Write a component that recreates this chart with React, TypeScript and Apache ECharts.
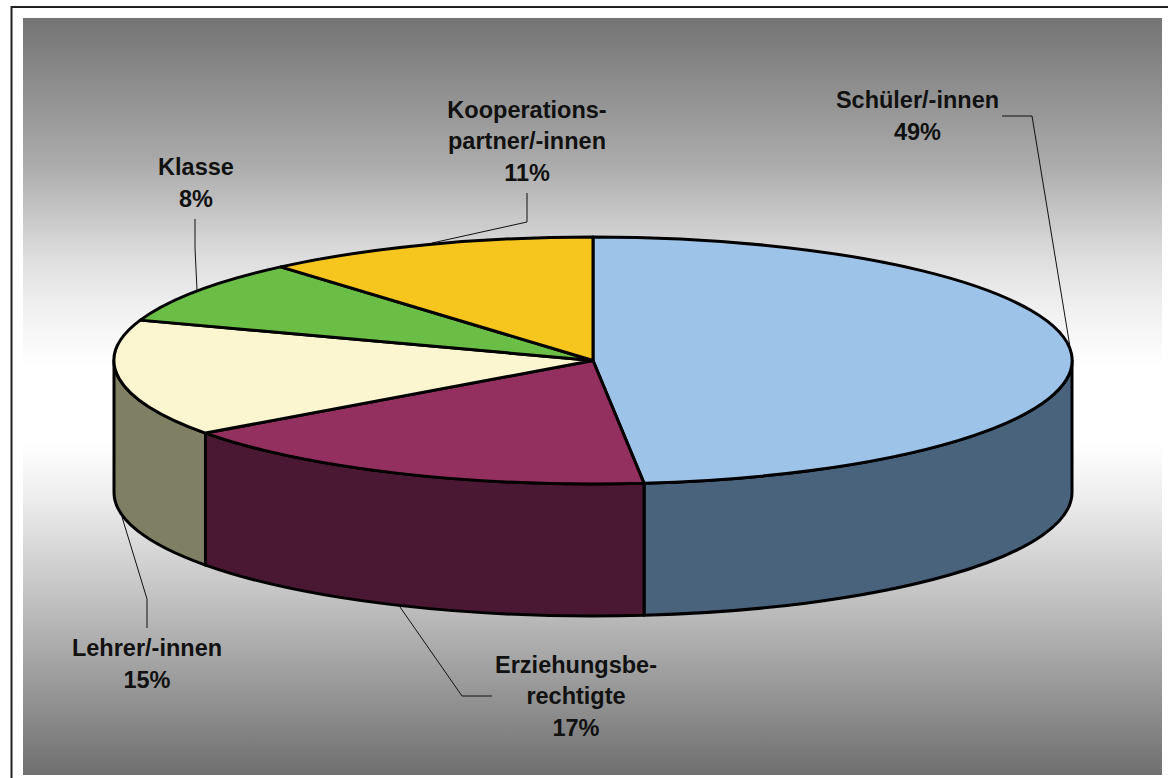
import React, { useEffect, useRef } from "react";
import * as echarts from "echarts";

const categories = ["Schüler/-innen", "Erziehungsbe-\nrechtigte", "Lehrer/-innen", "Klasse", "Kooperations-\npartner/-innen"];
const sliceShares = [48.3, 16.7, 15.3, 8.4, 11.3];
const percentLabels = [49, 17, 15, 8, 11];
const topColors = ["#9DC3E9", "#93305F", "#FBF6CF", "#6ABD45", "#F6C51E"];
const sideColors = ["#4A637D", "#4A1832", "#7F7F63", "#35602A", "#7C630F"];

const CX = 593, CY = 360.5, RX = 479, RY = 123.5, DEPTH = 132;
const OUTLINE = 3;
const labelCenters = [[917.5, 116], [576, 696], [147, 664], [196, 183], [527, 141]];
const leaders = [
  [[1002, 116], [1032, 116], [1070, 347]],
  [[492, 696], [462, 696], [400, 607]],
  [[147, 628], [147, 599], [122, 517]],
  [[195, 219], [195, 248], [197, 290]],
  [[527, 193], [527, 222], [432, 243]],
];

const total = sliceShares.reduce((a, b) => a + b, 0);
const pt = (deg: number, dy = 0): [number, number] => {
  const r = (deg * Math.PI) / 180;
  return [CX + RX * Math.sin(r), CY - RY * Math.cos(r) + dy];
};
const f = (n: number) => n.toFixed(2);

function renderItem(params: any) {
  const i = params.dataIndex;
  const before = sliceShares.slice(0, i).reduce((a, b) => a + b, 0);
  const a0 = (before / total) * 360;
  const a1 = ((before + sliceShares[i]) / total) * 360;
  const [sx, sy] = pt(a0);
  const [ex, ey] = pt(a1);
  const large = a1 - a0 > 180 ? 1 : 0;
  const children: any[] = [];
  const s0 = Math.max(a0, 90);
  const s1 = Math.min(a1, 270);
  if (s1 > s0) {
    const [x0, y0] = pt(s0);
    const [x1, y1] = pt(s1);
    children.push({
      type: "path",
      z2: 1,
      shape: {
        pathData: `M${f(x0)} ${f(y0)}A${RX} ${RY} 0 0 1 ${f(x1)} ${f(y1)}L${f(x1)} ${f(y1 + DEPTH)}A${RX} ${RY} 0 0 0 ${f(x0)} ${f(y0 + DEPTH)}Z`,
      },
      style: { fill: sideColors[i], stroke: "#000", lineWidth: OUTLINE, lineJoin: "round" },
    });
  }
  children.push({
    type: "path",
    z2: 2,
    shape: {
      pathData: `M${CX} ${CY}L${f(sx)} ${f(sy)}A${RX} ${RY} 0 ${large} 1 ${f(ex)} ${f(ey)}Z`,
    },
    style: { fill: topColors[i], stroke: "#000", lineWidth: OUTLINE, lineJoin: "round" },
  });
  return { type: "group", children };
}

export default function App() {
  const ref = useRef<HTMLDivElement>(null);
  useEffect(() => {
    const chart = echarts.init(ref.current!, null, { renderer: "svg" });
    chart.setOption({
      animation: false,
      backgroundColor: "#fff",
      graphic: [
        {
          type: "rect",
          z: -10,
          shape: { x: 23, y: 18, width: 1139, height: 757 },
          style: {
            fill: new echarts.graphic.LinearGradient(0, 0, 0, 1, [
              { offset: 0, color: "#747474" },
              { offset: 0.19, color: "#aaaaaa" },
              { offset: 0.318, color: "#dedede" },
              { offset: 0.383, color: "#f0f0f0" },
              { offset: 0.46, color: "#ffffff" },
              { offset: 0.561, color: "#ffffff" },
              { offset: 0.638, color: "#ececec" },
              { offset: 0.766, color: "#c2c2c2" },
              { offset: 1, color: "#6f6f6f" },
            ]),
          },
        },
        { type: "polyline", z: -9, shape: { points: [[11.5, 778], [11.5, 7], [1168, 7]] }, style: { fill: "none", stroke: "#222", lineWidth: 2 } },
        ...leaders.map((points) => ({
          type: "polyline",
          z: 1,
          shape: { points },
          style: { fill: "none", stroke: "#111", lineWidth: 1 },
        })),
        ...categories.map((name, i) => ({
          type: "text",
          z: 10,
          x: labelCenters[i][0],
          y: labelCenters[i][1],
          style: {
            text: `${name}\n${percentLabels[i]}%`,
            font: 'bold 23.5px "Liberation Sans", Arial, sans-serif',
            fill: "#111",
            align: "center",
            verticalAlign: "middle",
            lineHeight: 31.5,
          },
        })),
      ],
      series: [
        {
          type: "custom",
          coordinateSystem: "none",
          z: 5,
          silent: true,
          data: sliceShares,
          renderItem,
        },
      ],
    });
    return () => chart.dispose();
  }, []);
  return <div ref={ref} style={{ position: "fixed", left: 0, top: 0, width: 1168, height: 778 }} />;
}
